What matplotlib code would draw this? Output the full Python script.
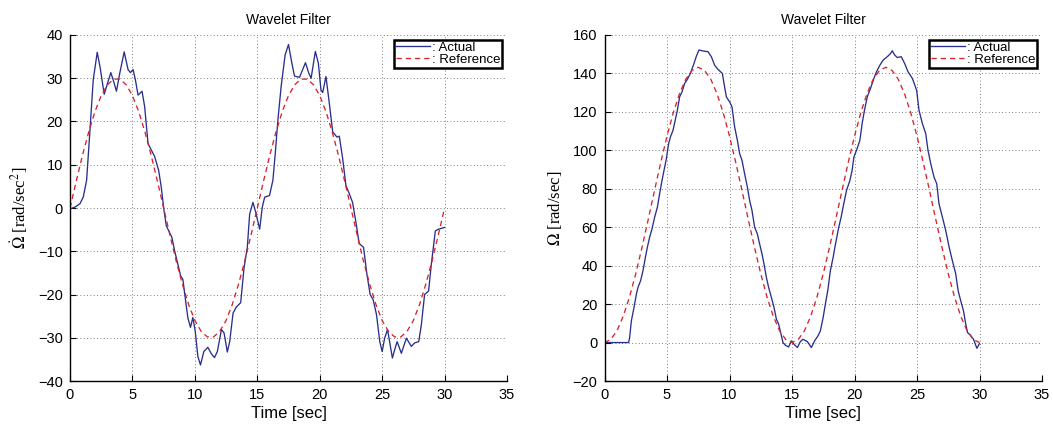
import matplotlib
matplotlib.use("Agg")
import matplotlib.pyplot as plt

plt.rcParams['font.family'] = ['Liberation Sans', 'DejaVu Sans']
plt.rcParams['mathtext.fontset'] = 'stix'

# ---------------- data ----------------
t_ref = [0.0, 0.5, 1.0, 1.5, 2.0, 2.5, 3.0, 3.5, 4.0, 4.5, 5.0, 5.5, 6.0, 6.5, 7.0,
         7.5, 8.0, 8.5, 9.0, 9.5, 10.0, 10.5, 11.0, 11.5, 12.0, 12.5, 13.0, 13.5,
         14.0, 14.5, 15.0, 15.5, 16.0, 16.5, 17.0, 17.5, 18.0, 18.5, 19.0, 19.5,
         20.0, 20.5, 21.0, 21.5, 22.0, 22.5, 23.0, 23.5, 24.0, 24.5, 25.0, 25.5,
         26.0, 26.5, 27.0, 27.5, 28.0, 28.5, 29.0, 29.5, 30.0]

acc_ref = [0, 6.2, 12.2, 17.6, 22.3, 26.0, 28.5, 29.8, 29.8, 28.5, 26.0, 22.3, 17.6,
           12.2, 6.2, 0, -6.2, -12.2, -17.6, -22.3, -26.0, -28.5, -29.8, -29.8, -28.5,
           -26.0, -22.3, -17.6, -12.2, -6.2, 0, 6.2, 12.2, 17.6, 22.3, 26.0, 28.5,
           29.8, 29.8, 28.5, 26.0, 22.3, 17.6, 12.2, 6.2, 0, -6.2, -12.2, -17.6,
           -22.3, -26.0, -28.5, -29.8, -29.8, -28.5, -26.0, -22.3, -17.6, -12.2,
           -6.2, 0]

vel_ref = [0, 1.6, 6.2, 13.7, 23.7, 35.8, 49.5, 64.1, 79.1, 93.7, 107.4, 119.5, 129.5,
           137.0, 141.6, 143.2, 141.6, 137.0, 129.5, 119.5, 107.4, 93.7, 79.1, 64.1,
           49.5, 35.8, 23.7, 13.7, 6.2, 1.6, 0, 1.6, 6.2, 13.7, 23.7, 35.8, 49.5,
           64.1, 79.1, 93.7, 107.4, 119.5, 129.5, 137.0, 141.6, 143.2, 141.6, 137.0,
           129.5, 119.5, 107.4, 93.7, 79.1, 64.1, 49.5, 35.8, 23.7, 13.7, 6.2, 1.6, 0]

t_acc = [0, 0.4, 0.8, 1.06, 1.33, 1.6, 1.86, 2.18, 2.4, 2.74, 3.0, 3.27, 3.46, 3.72,
         3.99, 4.34, 4.65, 4.84, 5.05, 5.24, 5.45, 5.77, 5.98, 6.25, 6.46, 6.78, 7.1,
         7.31, 7.53, 7.71, 7.98, 8.16, 8.38, 8.64, 8.86, 9.04, 9.23, 9.44, 9.65, 9.84,
         10.03, 10.24, 10.45, 10.72, 11.04, 11.3, 11.57, 11.8, 12.13, 12.34, 12.6,
         12.79, 13.06, 13.32, 13.67, 13.94, 14.2, 14.39, 14.65, 14.84, 15.19, 15.4,
         15.59, 15.98, 16.25, 16.44, 16.65, 16.91, 17.23, 17.5, 17.77, 17.98, 18.38,
         18.86, 19.12, 19.31, 19.65, 19.89, 20.1, 20.24, 20.5, 20.77, 21.04, 21.38,
         21.57, 21.84, 22.1, 22.37, 22.63, 22.9, 23.16, 23.51, 23.78, 24.04, 24.28,
         24.55, 24.81, 25.0, 25.2, 25.43, 25.6, 25.82, 26.0, 26.2, 26.54, 26.94,
         27.34, 27.6, 27.93, 28.14, 28.4, 28.72, 28.94, 29.26, 29.52, 30.0]

acc_act = [-0.2, 0.2, 1.0, 2.5, 6.4, 18.0, 29.6, 36.0, 32.7, 26.3, 28.8, 31.3, 29.6,
           27.0, 31.2, 36.1, 32.0, 31.3, 32.0, 29.6, 26.1, 27.0, 23.4, 14.9, 13.7,
           11.9, 8.7, 4.8, -0.6, -4.1, -5.7, -6.8, -9.9, -13.0, -15.7, -16.5, -20.8,
           -25.4, -27.6, -25.3, -28.5, -34.3, -36.3, -33.2, -32.2, -33.6, -34.6,
           -33.2, -28.1, -28.9, -33.3, -30.9, -24.3, -22.9, -21.9, -13.8, -9.1, -1.4,
           1.3, -0.6, -4.9, 0.2, 2.5, 2.9, 6.4, 12.6, 20.3, 28.1, 35.4, 37.8, 33.5,
           30.5, 30.2, 33.6, 31.2, 30.0, 36.2, 33.5, 27.3, 26.7, 30.4, 24.2, 17.6,
           16.4, 16.6, 11.4, 5.2, 3.3, 1.3, -3.3, -8.2, -9.1, -15.3, -20.0, -21.2,
           -24.7, -30.9, -33.2, -30.1, -28.1, -30.9, -34.7, -32.8, -30.9, -33.6,
           -30.1, -32.0, -31.2, -30.9, -27.0, -20.0, -19.2, -13.0, -5.3, -4.9, -4.5]

t_vel = [0, 1.93, 2.01, 2.15, 2.36, 2.55, 2.68, 2.89, 3.08, 3.27, 3.43, 3.61, 3.8,
         4.01, 4.23, 4.41, 4.6, 4.81, 4.95, 5.13, 5.29, 5.48, 5.67, 5.83, 6.01, 6.2,
         6.41, 6.63, 6.89, 7.16, 7.35, 7.56, 7.88, 8.28, 8.55, 8.81, 9.08, 9.43, 9.56,
         9.75, 10.01, 10.2, 10.41, 10.63, 10.81, 11.0, 11.21, 11.43, 11.61, 11.8,
         12.01, 12.23, 12.41, 12.6, 12.76, 12.95, 13.13, 13.35, 13.56, 13.75, 13.93,
         14.15, 14.28, 14.47, 14.73, 14.95, 15.16, 15.43, 15.67, 15.88, 16.23, 16.55,
         16.81, 17.08, 17.27, 17.49, 17.67, 17.86, 18.07, 18.29, 18.48, 18.74, 18.93,
         19.14, 19.36, 19.63, 19.81, 19.95, 20.16, 20.43, 20.61, 20.8, 21.02, 21.28,
         21.55, 21.76, 22.03, 22.3, 22.62, 22.89, 23.02, 23.21, 23.42, 23.74, 24.01,
         24.28, 24.63, 24.97, 25.16, 25.43, 25.7, 25.88, 26.1, 26.36, 26.58, 26.76,
         27.03, 27.3, 27.57, 27.83, 28.1, 28.29, 28.5, 28.72, 28.9, 29.04, 29.25,
         29.52, 29.79, 30.0]

vel_act = [0, 0, 2.6, 11.3, 18.3, 25.2, 28.7, 32.2, 37.4, 44.3, 49.6, 54.8, 59.1,
           65.2, 70.4, 77.4, 84.3, 91.3, 95.7, 103.5, 107.3, 110.4, 116.0, 120.9,
           127.8, 130.4, 134.8, 136.9, 140.3, 145.2, 149.0, 152.2, 151.7, 151.3,
           148.7, 144.3, 142.1, 140.0, 134.8, 127.8, 125.2, 122.6, 112.2, 105.2, 98.3,
           94.8, 87.8, 80.9, 73.9, 68.7, 60.0, 56.5, 51.3, 46.1, 40.9, 33.9, 28.7,
           23.5, 18.3, 12.2, 9.6, 3.5, 0.0, -1.4, -2.3, 0.9, -0.9, -2.6, 0.5, 1.7, 0.5,
           -2.6, 0.9, 3.5, 6.1, 13.0, 20.0, 27.0, 37.4, 44.3, 51.3, 60.0, 65.2, 72.2,
           79.1, 84.3, 89.6, 96.5, 100.0, 105.2, 113.9, 120.9, 127.8, 132.2, 137.4,
           140.9, 144.3, 147.0, 148.7, 150.4, 151.8, 149.6, 148.3, 148.7, 145.2,
           140.9, 137.4, 131.3, 120.9, 113.9, 108.7, 100.0, 93.0, 86.1, 82.6, 72.2,
           65.2, 58.3, 49.6, 42.6, 35.7, 27.0, 21.7, 16.5, 9.6, 5.2, 4.0, 1.7, -3.0,
           -0.5]

x_ticks = [0, 5, 10, 15, 20, 25, 30, 35]
acc_ticks = [-40, -30, -20, -10, 0, 10, 20, 30, 40]
vel_ticks = [-20, 0, 20, 40, 60, 80, 100, 120, 140, 160]

titles = ["Wavelet Filter", "Wavelet Filter"]
ylabels = [r"$\dot{\Omega}$ [rad/sec$^2$]", r"$\Omega$ [rad/sec]"]
xlabel = "Time [sec]"
legend_labels = [": Actual", ": Reference"]

# ---------------- figure ----------------
W, H = 1053, 436
fig = plt.figure(figsize=(W / 100, H / 100), dpi=100)

def px_axes(x0, x1, y0, y1):
    return fig.add_axes([x0 / W, 1 - y1 / H, (x1 - x0) / W, (y1 - y0) / H])

ax1 = px_axes(70, 507, 35, 381)
ax2 = px_axes(604.5, 1042, 35, 381)

blue = '#2a2f8c'
red = '#d8232f'

panels = [
    (ax1, t_acc, acc_act, acc_ref, acc_ticks, (-40, 40)),
    (ax2, t_vel, vel_act, vel_ref, vel_ticks, (-20, 160)),
]

for i, (ax, ta, ya, yr, yt, ylim) in enumerate(panels):
    ax.plot(ta, ya, color=blue, lw=0.95, label=legend_labels[0])
    ax.plot(t_ref, yr, color=red, lw=0.95, ls=(0, (4, 3)), label=legend_labels[1])
    ax.set_xlim(0, 35)
    ax.set_ylim(*ylim)
    ax.set_xticks(x_ticks)
    ax.set_yticks(yt)
    ax.grid(True, color='#555555', lw=0.6, ls=(0, (1, 3)))
    ax.spines['top'].set_visible(False)
    ax.spines['right'].set_visible(False)
    ax.spines['left'].set_linewidth(1.0)
    ax.spines['bottom'].set_linewidth(1.0)
    ax.tick_params(direction='in', length=4, width=0.8, labelsize=10.5, pad=5)
    ax.set_title(titles[i], fontsize=10, pad=8)
    ax.set_xlabel(xlabel, fontsize=12, labelpad=3)
    ax.set_ylabel(ylabels[i], fontsize=12, family='Liberation Serif', labelpad=6)
    leg = ax.legend(loc='upper right', fontsize=9.5, handlelength=2.6,
                    handletextpad=0.15, borderpad=0.15, labelspacing=0.0,
                    borderaxespad=0.35, fancybox=False, framealpha=1)
    leg.get_frame().set_edgecolor('black')
    leg.get_frame().set_linewidth(1.8)

fig.savefig("out.png", dpi=100)
